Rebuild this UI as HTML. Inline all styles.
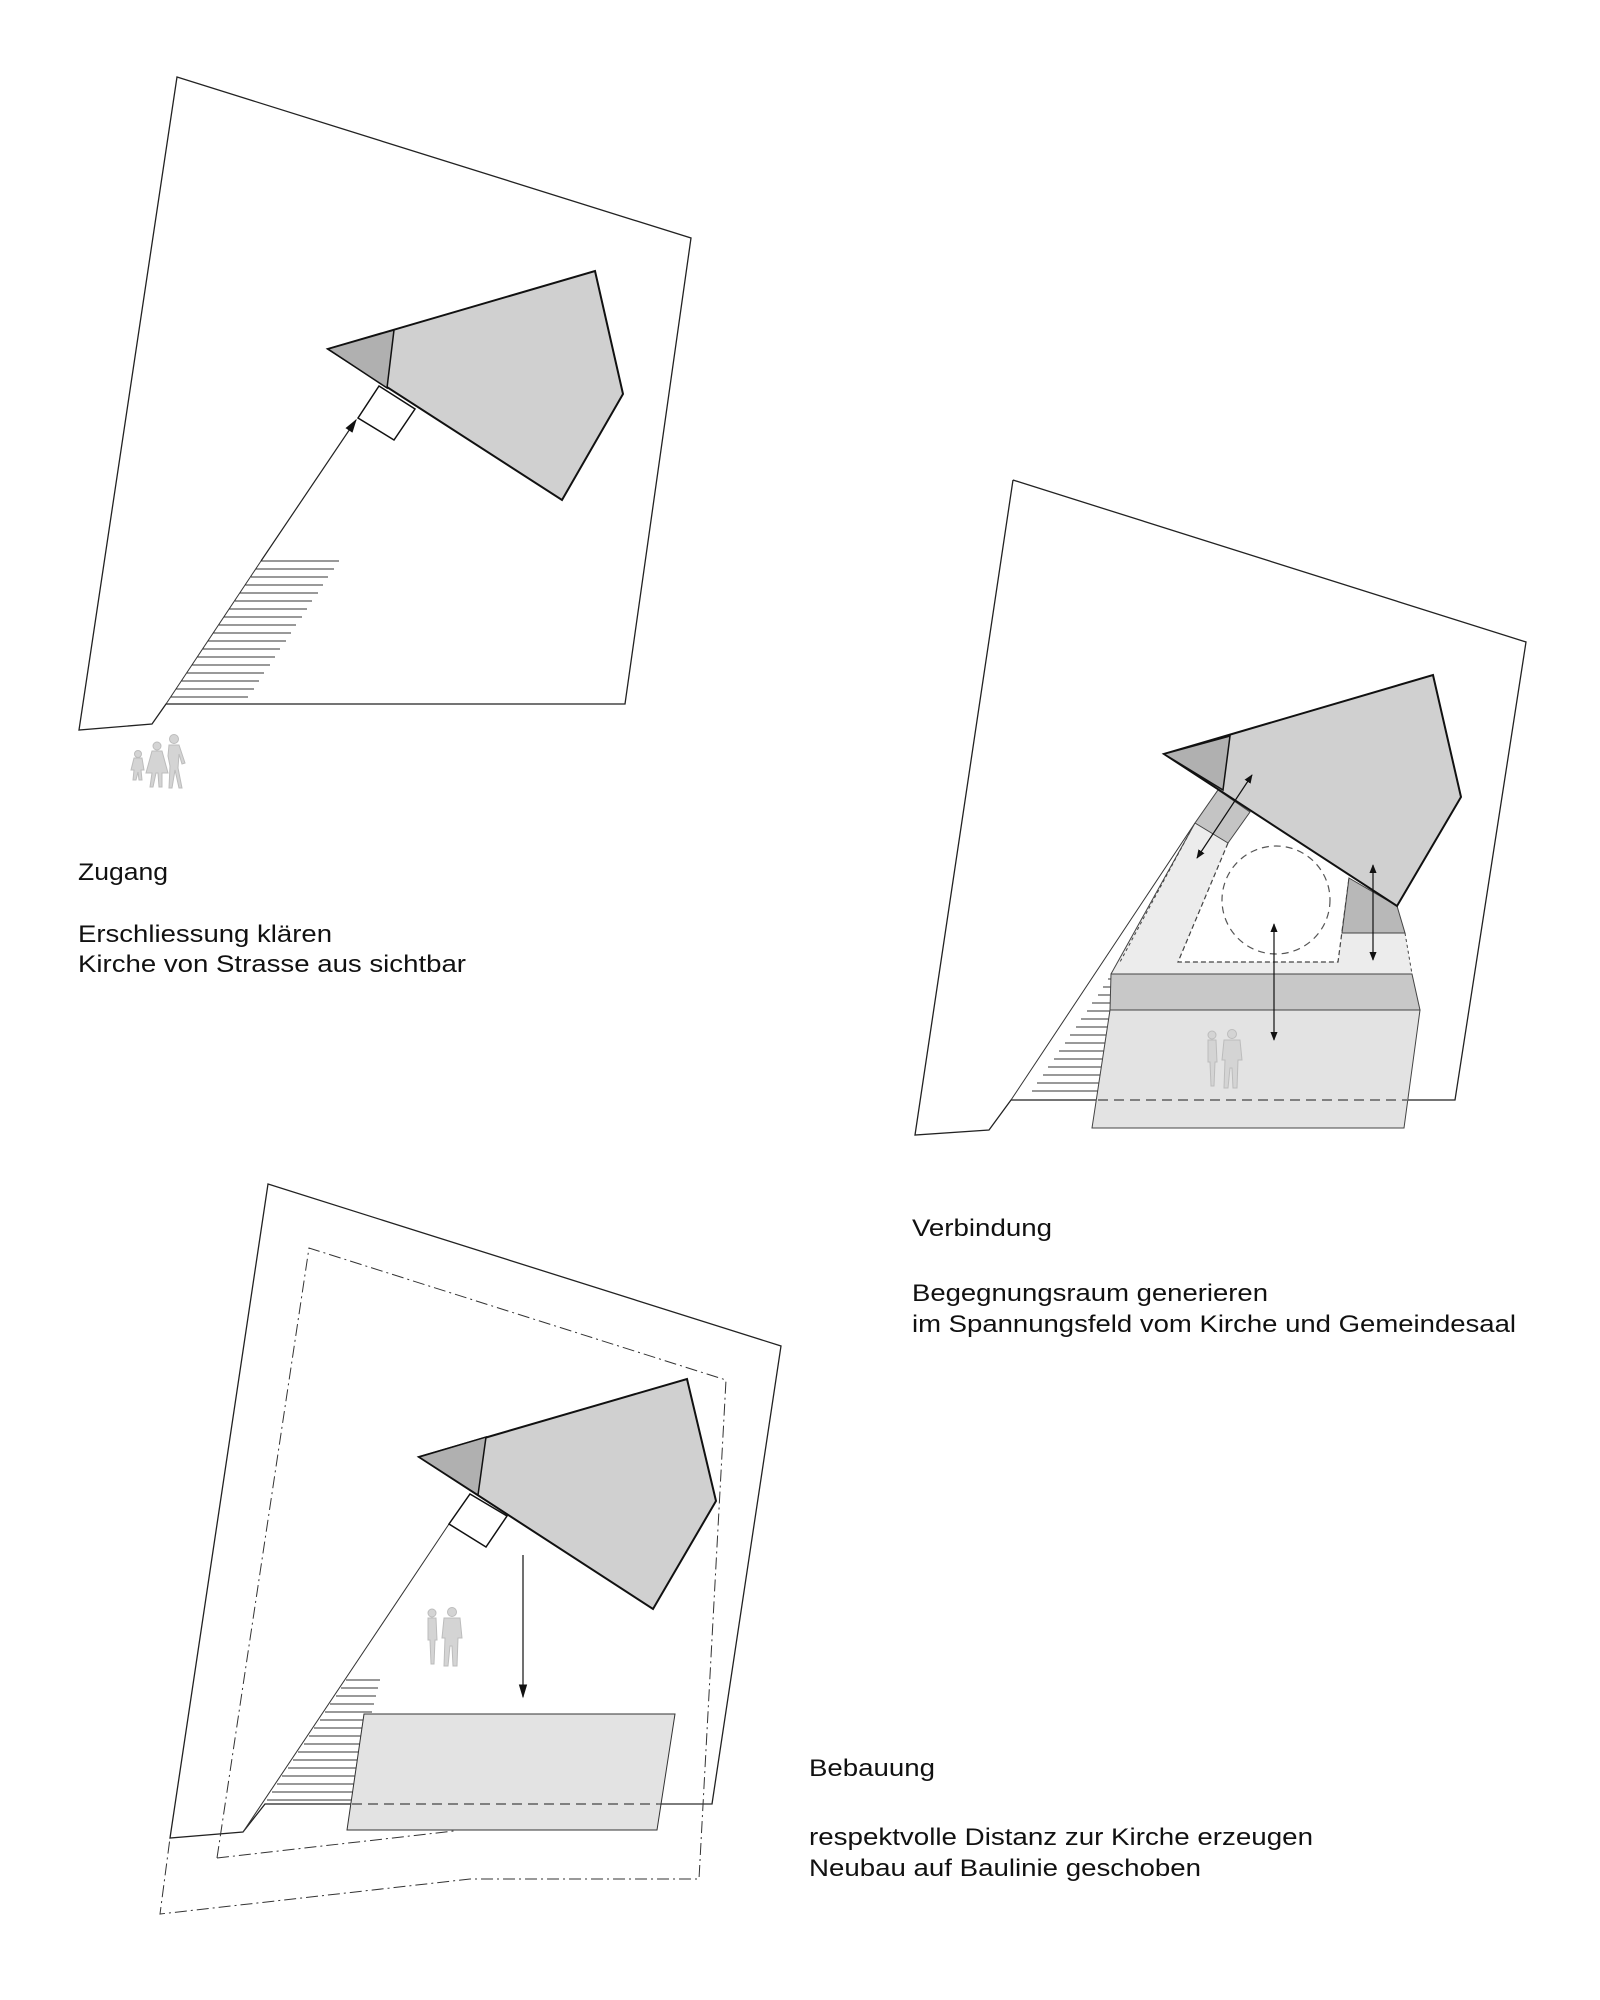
<!DOCTYPE html>
<html><head><meta charset="utf-8"><style>
html,body{margin:0;padding:0;background:#fff}
svg{display:block}
text{font-family:"Liberation Sans",Arial,sans-serif;font-size:24px;fill:#111}
</style></head><body>
<svg width="1600" height="2000" viewBox="0 0 1600 2000" xmlns="http://www.w3.org/2000/svg">
<defs>
<marker id="ah" viewBox="0 0 10 10" refX="9" refY="5" markerWidth="9" markerHeight="9" orient="auto-start-reverse" markerUnits="userSpaceOnUse"><path d="M0,1 L10,5 L0,9 z" fill="#111"/></marker>
<marker id="ah2" viewBox="0 0 10 10" refX="9" refY="5" markerWidth="14" markerHeight="14" orient="auto" markerUnits="userSpaceOnUse"><path d="M0,2 L10,5 L0,8 z" fill="#111"/></marker>
<g id="ppl2" fill="#d4d4d4" stroke="#bcbcbc" stroke-width="1">
<circle cx="6" cy="5" r="4"/><path d="M2,10 h8 l1,22 h-2 l-1,24 h-3 l-1,-24 h-2 z"/>
<circle cx="26" cy="4" r="4.5"/><path d="M18,10 h16 l2,20 h-4 l-1,28 h-4 l-1,-20 h-2 l-2,20 h-4 l1,-28 h-3 z"/>
</g>
</defs>

<!-- ===== Diagram 1 ===== -->
<polygon points="177,77 691,238 625,704 166,704 152,724 79,730" fill="none" stroke="#222" stroke-width="1.3"/>
<g stroke="#333" stroke-width="1">
<line x1="261" y1="561" x2="339" y2="561"/><line x1="256" y1="569" x2="334" y2="569"/><line x1="251" y1="577" x2="328" y2="577"/><line x1="245" y1="585" x2="323" y2="585"/><line x1="240" y1="593" x2="318" y2="593"/><line x1="235" y1="601" x2="312" y2="601"/><line x1="229" y1="609" x2="307" y2="609"/><line x1="224" y1="617" x2="302" y2="617"/><line x1="219" y1="625" x2="296" y2="625"/><line x1="213" y1="633" x2="291" y2="633"/><line x1="208" y1="641" x2="286" y2="641"/><line x1="203" y1="649" x2="280" y2="649"/><line x1="197" y1="657" x2="275" y2="657"/><line x1="192" y1="665" x2="270" y2="665"/><line x1="187" y1="673" x2="264" y2="673"/><line x1="181" y1="681" x2="259" y2="681"/><line x1="176" y1="689" x2="254" y2="689"/><line x1="171" y1="697" x2="248" y2="697"/>
</g>
<line x1="166" y1="704" x2="261" y2="561" stroke="#333" stroke-width="1"/>
<line x1="261" y1="561" x2="356" y2="420" stroke="#222" stroke-width="1.2" marker-end="url(#ah2)"/>
<polygon points="328,349 595,271 623,394 562,500" fill="#d0d0d0" stroke="#111" stroke-width="2"/>
<polygon points="328,349 394,330 387,388" fill="#b0b0b0" stroke="#111" stroke-width="1.5"/>
<polygon points="379,386 415,409 394,440 358,418" fill="#fff" stroke="#111" stroke-width="1.5"/>
<g transform="translate(130,748)" fill="#d4d4d4" stroke="#bcbcbc">
<circle cx="8" cy="6" r="3.5"/><path d="M4,10 h8 l2,12 h-3 l1,10 h-3 l-1,-8 l-2,8 h-3 l1,-10 h-3 z"/>
<circle cx="27" cy="-2" r="4"/><path d="M22,3 h10 l6,22 h-6 l0,14 h-3 l-1,-14 h-2 l-3,14 h-3 l2,-14 h-6 z"/>
<circle cx="44" cy="-9" r="4.5"/><path d="M39,-3 h10 l6,18 l-3,1 l-3,-10 l-1,14 l4,20 h-3 l-4,-18 l-3,18 h-3 l1,-22 l-2,-10 z"/>
</g>
<text x="78" y="880" textLength="90" lengthAdjust="spacingAndGlyphs">Zugang</text>
<text x="78" y="942" textLength="254" lengthAdjust="spacingAndGlyphs">Erschliessung klären</text>
<text x="78" y="972" textLength="388" lengthAdjust="spacingAndGlyphs">Kirche von Strasse aus sichtbar</text>

<!-- ===== Diagram 2 ===== -->
<polyline points="1013,480 1526,642 1455,1100 1407,1100" fill="none" stroke="#222" stroke-width="1.3"/>
<polyline points="1098,1100 1011,1100 989,1130 915,1135 1013,480" fill="none" stroke="#222" stroke-width="1.3"/>
<g stroke="#333" stroke-width="1">
<line x1="1108" y1="979" x2="1127" y2="979"/><line x1="1103" y1="987" x2="1124" y2="987"/><line x1="1098" y1="995" x2="1121" y2="995"/><line x1="1092" y1="1003" x2="1118" y2="1003"/><line x1="1087" y1="1011" x2="1110" y2="1011"/><line x1="1081" y1="1019" x2="1109" y2="1019"/><line x1="1076" y1="1027" x2="1108" y2="1027"/><line x1="1070" y1="1035" x2="1107" y2="1035"/><line x1="1065" y1="1043" x2="1106" y2="1043"/><line x1="1059" y1="1051" x2="1104" y2="1051"/><line x1="1054" y1="1059" x2="1103" y2="1059"/><line x1="1048" y1="1067" x2="1102" y2="1067"/><line x1="1043" y1="1075" x2="1101" y2="1075"/><line x1="1037" y1="1083" x2="1100" y2="1083"/><line x1="1032" y1="1091" x2="1099" y2="1091"/>
</g>
<line x1="1011" y1="1100" x2="1195" y2="823" stroke="#333" stroke-width="1"/>
<polygon points="1195,823 1228,843 1178,962 1338,962 1342,933 1405,933 1412,974 1111,974" fill="#ececec" stroke="none"/>
<line x1="1195" y1="823" x2="1111" y2="974" stroke="#444" stroke-width="1"/>
<line x1="1190" y1="832" x2="1120" y2="962" stroke="#444" stroke-width="1" stroke-dasharray="3,3"/>
<polyline points="1228,843 1178,962 1338,962 1349,878" fill="none" stroke="#444" stroke-width="1.2" stroke-dasharray="5,3"/>
<line x1="1405" y1="933" x2="1412" y2="974" stroke="#444" stroke-width="1" stroke-dasharray="3,3"/>
<circle cx="1276" cy="900" r="54" fill="none" stroke="#555" stroke-width="1.2" stroke-dasharray="7,5"/>
<polygon points="1218,790 1250,812 1228,843 1195,823" fill="#c4c4c4" stroke="#444" stroke-width="1"/>
<polygon points="1349,878 1397,906 1405,933 1342,933" fill="#b8b8b8" stroke="#444" stroke-width="1"/>
<polygon points="1111,974 1412,974 1420,1010 1110,1010" fill="#c8c8c8" stroke="#444" stroke-width="1"/>
<polygon points="1110,1010 1420,1010 1404,1128 1092,1128" fill="#e3e3e3" stroke="#444" stroke-width="1"/>
<line x1="1098" y1="1100" x2="1407" y2="1100" stroke="#444" stroke-width="1.2" stroke-dasharray="10,6"/>
<polygon points="1164,754 1433,675 1461,797 1397,906" fill="#d0d0d0" stroke="#111" stroke-width="2"/>
<polygon points="1164,754 1230,736 1223,790" fill="#b0b0b0" stroke="#111" stroke-width="1.5"/>
<line x1="1252" y1="775" x2="1197" y2="858" stroke="#111" stroke-width="1.2" marker-start="url(#ah)" marker-end="url(#ah)"/>
<line x1="1274" y1="924" x2="1274" y2="1040" stroke="#111" stroke-width="1.2" marker-start="url(#ah)" marker-end="url(#ah)"/>
<line x1="1373" y1="865" x2="1373" y2="960" stroke="#111" stroke-width="1.2" marker-start="url(#ah)" marker-end="url(#ah)"/>
<use href="#ppl2" transform="translate(1206,1030)"/>
<text x="912" y="1236" textLength="140" lengthAdjust="spacingAndGlyphs">Verbindung</text>
<text x="912" y="1301" textLength="356" lengthAdjust="spacingAndGlyphs">Begegnungsraum generieren</text>
<text x="912" y="1332" textLength="604" lengthAdjust="spacingAndGlyphs">im Spannungsfeld vom Kirche und Gemeindesaal</text>

<!-- ===== Diagram 3 ===== -->
<polygon points="268,1184 781,1346 712,1804 265,1804 243,1832 170,1838" fill="none" stroke="#222" stroke-width="1.3"/>
<polyline points="217,1858 309,1248 726,1380 699,1879 470,1879 160,1914 170,1838" fill="none" stroke="#333" stroke-width="1" stroke-dasharray="12,4,2,4"/>
<line x1="217" y1="1858" x2="454" y2="1831" stroke="#333" stroke-width="1" stroke-dasharray="12,4,2,4"/>
<g stroke="#333" stroke-width="1">
<line x1="346" y1="1680" x2="380" y2="1680"/><line x1="341" y1="1688" x2="378" y2="1688"/><line x1="336" y1="1696" x2="376" y2="1696"/><line x1="330" y1="1704" x2="374" y2="1704"/><line x1="325" y1="1712" x2="372" y2="1712"/><line x1="320" y1="1720" x2="363" y2="1720"/><line x1="314" y1="1728" x2="362" y2="1728"/><line x1="309" y1="1736" x2="361" y2="1736"/><line x1="304" y1="1744" x2="360" y2="1744"/><line x1="298" y1="1752" x2="359" y2="1752"/><line x1="293" y1="1760" x2="358" y2="1760"/><line x1="288" y1="1768" x2="357" y2="1768"/><line x1="282" y1="1776" x2="356" y2="1776"/><line x1="277" y1="1784" x2="355" y2="1784"/><line x1="272" y1="1792" x2="354" y2="1792"/><line x1="267" y1="1800" x2="353" y2="1800"/>
</g>
<line x1="243" y1="1832" x2="449" y2="1524" stroke="#333" stroke-width="1"/>
<polygon points="364,1714 675,1714 657,1830 347,1830" fill="#e3e3e3" stroke="#333" stroke-width="1"/>
<line x1="352" y1="1804" x2="658" y2="1804" stroke="#444" stroke-width="1.2" stroke-dasharray="10,6"/>
<line x1="658" y1="1804" x2="712" y2="1804" stroke="#333" stroke-width="1"/>
<polygon points="419,1457 687,1379 716,1501 653,1609" fill="#d0d0d0" stroke="#111" stroke-width="2"/>
<polygon points="419,1457 486,1437 478,1495" fill="#b0b0b0" stroke="#111" stroke-width="1.5"/>
<polygon points="470,1494 507,1516 486,1547 449,1524" fill="#fff" stroke="#111" stroke-width="1.5"/>
<line x1="523" y1="1555" x2="523" y2="1697" stroke="#111" stroke-width="1.2" marker-end="url(#ah2)"/>
<use href="#ppl2" transform="translate(426,1608)"/>
<text x="809" y="1776" textLength="126" lengthAdjust="spacingAndGlyphs">Bebauung</text>
<text x="809" y="1845" textLength="504" lengthAdjust="spacingAndGlyphs">respektvolle Distanz zur Kirche erzeugen</text>
<text x="809" y="1876" textLength="392" lengthAdjust="spacingAndGlyphs">Neubau auf Baulinie geschoben</text>
</svg>
</body></html>
